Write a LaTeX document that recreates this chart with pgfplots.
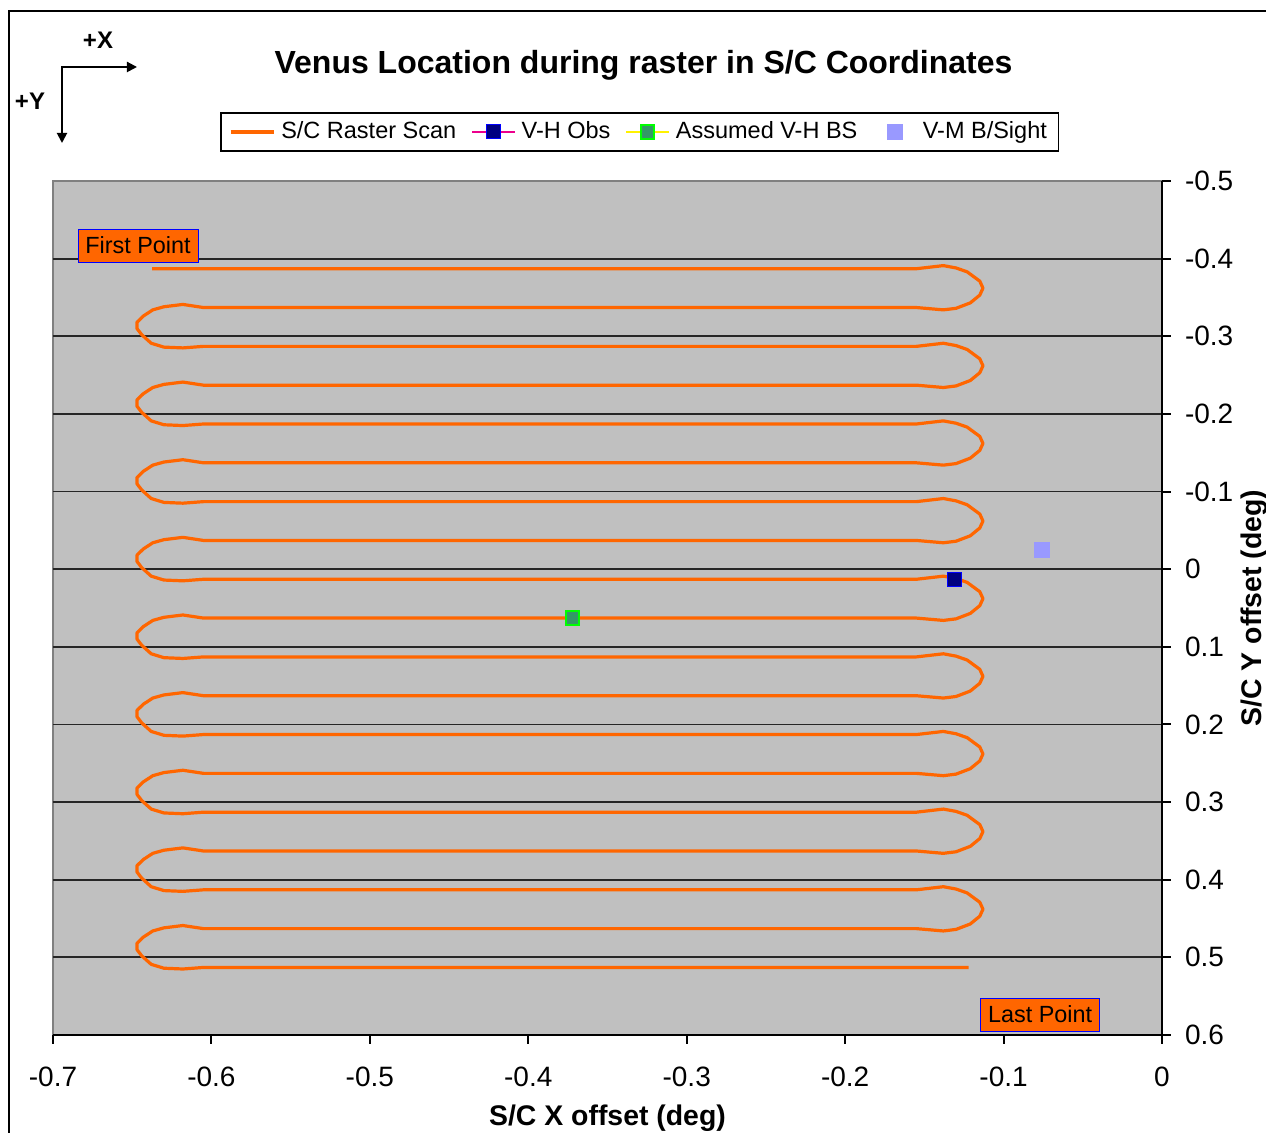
\documentclass[border=0pt]{standalone}
\usepackage{fontspec}
\setmainfont{Liberation Sans}
\usepackage{pgfplots}
\pgfplotsset{compat=1.18}
\usetikzlibrary{arrows.meta}

\definecolor{plotgray}{HTML}{C0C0C0}
\definecolor{scanorange}{HTML}{FF6600}
\definecolor{obsnavy}{HTML}{000080}
\definecolor{bsgreen}{HTML}{339966}
\definecolor{vmblue}{HTML}{9999FF}

\pgfplotsset{wide legend/.style={legend image code/.code={\draw[mark repeat=2,mark phase=2,##1]
    plot coordinates {(0pt,0pt) (10.75pt,0pt) (21.5pt,0pt)};}}}

\begin{document}
\begin{tikzpicture}
% 1 px of the reference = 0.5pt, origin at the lower left corner of the plot area
\useasboundingbox (-26.5pt,517.5pt) rectangle (606.5pt,-49pt);
\draw[line width=0.8pt] (-22pt,512pt) rectangle (700pt,-100pt);

% direction arrows
\draw[line width=1pt, {Triangle[length=5pt,width=5pt]}-{Triangle[length=5pt,width=5pt]}]
  (42pt,484pt) -- (4.5pt,484pt) -- (4.5pt,446pt);
\node[font=\fontsize{12}{14}\selectfont\bfseries] at (22.5pt,497.5pt) {+X};
\node[font=\fontsize{12}{14}\selectfont\bfseries] at (-11.5pt,467pt) {+Y};

\begin{axis}[
  scale only axis, width=554.5pt, height=427pt,
  xmin=-0.7, xmax=0, ymin=-0.5, ymax=0.6, y dir=reverse,
  axis x line*=bottom, axis y line*=right,
  axis line style={-, line width=1pt, black},
  axis background/.style={fill=plotgray, draw=gray, line width=1pt},
  xtick={-0.7,-0.6,-0.5,-0.4,-0.3,-0.2,-0.1,0},
  ytick={-0.5,-0.4,-0.3,-0.2,-0.1,0,0.1,0.2,0.3,0.4,0.5,0.6},
  minor ytick={-0.4,-0.3,-0.2,-0.1,0,0.1,0.2,0.3,0.4,0.5},
  yminorgrids, minor tick length=0pt,
  minor grid style={line width=0.9pt, black!85},
  tick align=outside, major tick length=4.5pt,
  major tick style={line width=1pt, black},
  /pgf/number format/.cd, fixed, precision=1, assume math mode=true, /pgfplots/.cd,
  tick label style={font=\fontsize{14}{16}\selectfont},
  xticklabel style={yshift=-8pt},
  yticklabel style={xshift=3.5pt},
  title={Venus Location during raster in S/C Coordinates},
  every axis title/.style={at={(axis description cs:0.5325,1.1253)}, anchor=base,
    font=\fontsize{16}{19}\selectfont\bfseries},
  xlabel={S/C X offset (deg)},
  every axis x label/.style={at={(axis description cs:0.5,-0.1065)}, anchor=base,
    font=\fontsize{14.2}{17}\selectfont\bfseries},
  ylabel={S/C Y offset (deg)},
  every axis y label/.style={at={(axis description cs:1.0893,0.5)}, rotate=90, anchor=base,
    font=\fontsize{14.2}{17}\selectfont\bfseries},
  legend columns=4,
  legend style={at={(axis description cs:0.5293,1.0574)}, anchor=center,
    draw=black, line width=0.6pt, inner xsep=4pt, inner ysep=2.5pt,
    font=\fontsize{11.75}{14}\selectfont,
    nodes={inner xsep=2pt},
    /tikz/every odd column/.append style={column sep=1pt},
    /tikz/every even column/.append style={column sep=5.6pt}},
  wide legend,
]

\addplot[scanorange, line width=1.6pt, line join=round, mark=none] coordinates {
  (-0.6375,-0.387)
  (-0.155,-0.387) (-0.138,-0.391) (-0.130,-0.388) (-0.123,-0.383) (-0.115,-0.371) (-0.113,-0.362) (-0.115,-0.353) (-0.121,-0.343) (-0.130,-0.336) (-0.138,-0.334) (-0.155,-0.337)
  (-0.605,-0.337) (-0.618,-0.341) (-0.630,-0.338) (-0.637,-0.334) (-0.643,-0.326) (-0.647,-0.318) (-0.647,-0.310) (-0.644,-0.302) (-0.638,-0.291) (-0.630,-0.286) (-0.618,-0.285) (-0.605,-0.287)
  (-0.155,-0.287) (-0.138,-0.291) (-0.130,-0.288) (-0.123,-0.283) (-0.115,-0.271) (-0.113,-0.262) (-0.115,-0.253) (-0.121,-0.243) (-0.130,-0.236) (-0.138,-0.234) (-0.155,-0.237)
  (-0.605,-0.237) (-0.618,-0.241) (-0.630,-0.238) (-0.637,-0.234) (-0.643,-0.226) (-0.647,-0.218) (-0.647,-0.210) (-0.644,-0.202) (-0.638,-0.191) (-0.630,-0.186) (-0.618,-0.185) (-0.605,-0.187)
  (-0.155,-0.187) (-0.138,-0.191) (-0.130,-0.188) (-0.123,-0.183) (-0.115,-0.171) (-0.113,-0.162) (-0.115,-0.153) (-0.121,-0.143) (-0.130,-0.136) (-0.138,-0.134) (-0.155,-0.137)
  (-0.605,-0.137) (-0.618,-0.141) (-0.630,-0.138) (-0.637,-0.134) (-0.643,-0.126) (-0.647,-0.118) (-0.647,-0.110) (-0.644,-0.102) (-0.638,-0.091) (-0.630,-0.086) (-0.618,-0.085) (-0.605,-0.087)
  (-0.155,-0.087) (-0.138,-0.091) (-0.130,-0.088) (-0.123,-0.083) (-0.115,-0.071) (-0.113,-0.062) (-0.115,-0.053) (-0.121,-0.043) (-0.130,-0.036) (-0.138,-0.034) (-0.155,-0.037)
  (-0.605,-0.037) (-0.618,-0.041) (-0.630,-0.038) (-0.637,-0.034) (-0.643,-0.026) (-0.647,-0.018) (-0.647,-0.010) (-0.644,-0.002) (-0.638,0.009) (-0.630,0.014) (-0.618,0.015) (-0.605,0.013)
  (-0.155,0.013) (-0.138,0.009) (-0.130,0.012) (-0.123,0.017) (-0.115,0.029) (-0.113,0.038) (-0.115,0.047) (-0.121,0.057) (-0.130,0.064) (-0.138,0.066) (-0.155,0.063)
  (-0.605,0.063) (-0.618,0.059) (-0.630,0.062) (-0.637,0.066) (-0.643,0.074) (-0.647,0.082) (-0.647,0.090) (-0.644,0.098) (-0.638,0.109) (-0.630,0.114) (-0.618,0.115) (-0.605,0.113)
  (-0.155,0.113) (-0.138,0.109) (-0.130,0.112) (-0.123,0.117) (-0.115,0.129) (-0.113,0.138) (-0.115,0.147) (-0.121,0.157) (-0.130,0.164) (-0.138,0.166) (-0.155,0.163)
  (-0.605,0.163) (-0.618,0.159) (-0.630,0.162) (-0.637,0.166) (-0.643,0.174) (-0.647,0.182) (-0.647,0.190) (-0.644,0.198) (-0.638,0.209) (-0.630,0.214) (-0.618,0.215) (-0.605,0.213)
  (-0.155,0.213) (-0.138,0.209) (-0.130,0.212) (-0.123,0.217) (-0.115,0.229) (-0.113,0.238) (-0.115,0.247) (-0.121,0.257) (-0.130,0.264) (-0.138,0.266) (-0.155,0.263)
  (-0.605,0.263) (-0.618,0.259) (-0.630,0.262) (-0.637,0.266) (-0.643,0.274) (-0.647,0.282) (-0.647,0.290) (-0.644,0.298) (-0.638,0.309) (-0.630,0.314) (-0.618,0.315) (-0.605,0.313)
  (-0.155,0.313) (-0.138,0.309) (-0.130,0.312) (-0.123,0.317) (-0.115,0.329) (-0.113,0.338) (-0.115,0.347) (-0.121,0.357) (-0.130,0.364) (-0.138,0.366) (-0.155,0.363)
  (-0.605,0.363) (-0.618,0.359) (-0.630,0.362) (-0.637,0.366) (-0.643,0.374) (-0.647,0.382) (-0.647,0.390) (-0.644,0.398) (-0.638,0.409) (-0.630,0.414) (-0.618,0.415) (-0.605,0.413)
  (-0.155,0.413) (-0.138,0.409) (-0.130,0.412) (-0.123,0.417) (-0.115,0.429) (-0.113,0.438) (-0.115,0.447) (-0.121,0.457) (-0.130,0.464) (-0.138,0.466) (-0.155,0.463)
  (-0.605,0.463) (-0.618,0.459) (-0.630,0.462) (-0.637,0.466) (-0.643,0.474) (-0.647,0.482) (-0.647,0.490) (-0.644,0.498) (-0.638,0.509) (-0.630,0.514) (-0.618,0.515) (-0.605,0.513)
  (-0.122,0.513)
};
\addlegendentry{S/C Raster Scan}

\addplot[magenta, line width=0.6pt, mark=square*, mark size=3.5pt,
  mark options={fill=obsnavy, draw=blue, line width=0.5pt}] coordinates {(-0.131,0.013)};
\addlegendentry{V-H Obs}

\addplot[yellow, line width=0.6pt, mark=square*, mark size=3.3pt,
  mark options={fill=bsgreen, draw=green, line width=1pt}] coordinates {(-0.372,0.063)};
\addlegendentry{Assumed V-H BS}

\addplot[vmblue, draw opacity=0, mark=square*, mark size=3.75pt,
  mark options={draw opacity=1, fill=vmblue, draw=vmblue}] coordinates {(-0.076,-0.025)};
\addlegendentry{V-M B/Sight}

\node[fill=scanorange, draw=blue, line width=0.5pt, inner xsep=3.7pt, inner ysep=0pt,
  minimum height=16.5pt, font=\fontsize{11.7}{14}\selectfont]
  at (axis cs:-0.6463,-0.4169) {First Point};
\node[fill=scanorange, draw=blue, line width=0.5pt, inner xsep=3.7pt, inner ysep=0pt,
  minimum height=16.5pt, font=\fontsize{11.7}{14}\selectfont]
  at (axis cs:-0.0769,0.5736) {Last Point};
\end{axis}
\end{tikzpicture}
\end{document}
